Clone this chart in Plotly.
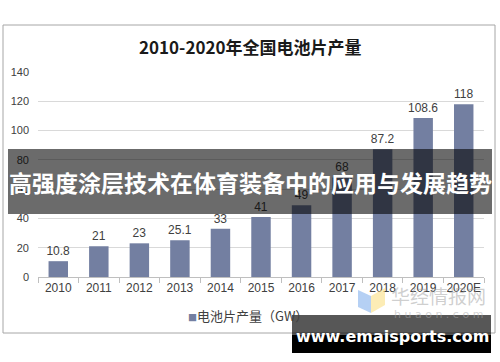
import plotly.graph_objects as go

categories = ["2010", "2011", "2012", "2013", "2014", "2015", "2016", "2017", "2018", "2019", "2020E"]
values = [10.8, 21, 23, 25.1, 33, 41, 49, 68, 87.2, 108.6, 118]
value_labels = ["10.8", "21", "23", "25.1", "33", "41", "49", "68", "87.2", "108.6", "118"]
y_ticks = [0, 20, 40, 60, 80, 100, 120, 140]

title_text = "2010-2020年全国电池片产量"
legend_text = "电池片产量（GW）"
banner_text = "高强度涂层技术在体育装备中的应用与发展趋势"
site_text = "www.emaisports.com"

W, H = 500, 362
L, R, T, B = 38, 16, 72, 85
PW, PH = W - L - R, H - T - B

def px(x):
    return (x - L) / PW

def py(y):
    return (H - B - y) / PH

bar_color = "#737fa1"

fig = go.Figure()
fig.add_trace(go.Bar(
    x=categories, y=values, text=value_labels, textposition="outside",
    constraintext="none",
    textfont=dict(family="Liberation Sans, Arial", size=12, color="#404040"),
    marker=dict(color=bar_color, line=dict(width=0)),
    cliponaxis=False, showlegend=False, hoverinfo="skip",
))

shapes = [
    # chart frame
    dict(type="rect", xref="paper", yref="paper", x0=px(3), x1=px(495), y0=py(333), y1=py(25),
         line=dict(color="#a6a6a6", width=1), fillcolor="rgba(0,0,0,0)", layer="below"),
    # logo watermark
    dict(type="path", xref="paper", yref="paper",
         path=f"M {px(358)},{py(290)} L {px(371)},{py(296)} L {px(371)},{py(313)} L {px(358)},{py(307)} Z",
         fillcolor="rgba(120,170,235,0.55)", line=dict(width=0), layer="above"),
    dict(type="path", xref="paper", yref="paper",
         path=f"M {px(371)},{py(296)} L {px(385)},{py(288)} L {px(385)},{py(305)} L {px(371)},{py(313)} Z",
         fillcolor="rgba(250,220,120,0.55)", line=dict(width=0), layer="above"),
    # banner overlay
    dict(type="rect", xref="paper", yref="paper", x0=px(8), x1=px(492), y0=py(214), y1=py(149),
         fillcolor="rgba(0,0,0,0.58)", line=dict(width=0), layer="above"),
    # site watermark box
    dict(type="rect", xref="paper", yref="paper", x0=px(292), x1=px(491), y0=py(335), y1=py(315),
         fillcolor="rgba(0,0,0,0.66)", line=dict(width=0), layer="above"),
    dict(type="rect", xref="paper", yref="paper", x0=px(292), x1=px(491), y0=py(353), y1=py(335),
         fillcolor="#000000", line=dict(width=0), layer="above"),
]

annotations = [
    dict(text=f"<b>{title_text}</b>", xref="paper", yref="paper", x=px(250), y=py(47),
         xanchor="center", yanchor="middle", showarrow=False,
         font=dict(family="Noto Sans CJK SC", size=17, color="#1a1a1a")),
    dict(text=f"<span style='color:{bar_color};font-size:9px'>■</span>{legend_text}", xref="paper", yref="paper",
         x=px(248), y=py(315), xanchor="center", yanchor="middle", showarrow=False,
         font=dict(family="Noto Sans CJK SC", size=13, color="#404040")),
    dict(text="华经情报网", xref="paper", yref="paper", x=px(438), y=py(295),
         xanchor="center", yanchor="middle", showarrow=False,
         font=dict(family="Noto Sans CJK SC", size=19, color="rgba(160,160,160,0.5)")),
    dict(text="h u a o n . c o m", xref="paper", yref="paper", x=px(438), y=py(314),
         xanchor="center", yanchor="middle", showarrow=False,
         font=dict(family="DejaVu Sans", size=11, color="rgba(170,170,170,0.5)")),
    dict(text=f"<b>{banner_text}</b>", xref="paper", yref="paper", x=px(250), y=py(182),
         xanchor="center", yanchor="middle", showarrow=False,
         font=dict(family="Noto Sans CJK SC", size=23, color="#ffffff")),
    dict(text=f"<b>{site_text}</b>", xref="paper", yref="paper", x=px(392), y=py(336),
         xanchor="center", yanchor="middle", showarrow=False,
         font=dict(family="DejaVu Sans", size=16, color="#ffffff")),
]

fig.update_layout(
    template="none",
    width=W, height=H,
    margin=dict(l=L, r=R, t=T, b=B, pad=0, autoexpand=False),
    paper_bgcolor="#ffffff", plot_bgcolor="#ffffff",
    bargap=0.52, showlegend=False,
    shapes=shapes, annotations=annotations,
    xaxis=dict(type="category", showgrid=False, showline=True, linecolor="#bfbfbf", linewidth=1,
               ticks="outside", tickson="boundaries", ticklen=5, tickcolor="#bfbfbf",
               tickangle=0, automargin=False,
               tickfont=dict(family="Liberation Sans, Arial", size=12, color="#404040"),
               fixedrange=True),
    yaxis=dict(range=[0, 140], tickvals=y_ticks, showgrid=True, gridcolor="#d9d9d9", gridwidth=1,
               zeroline=False, showline=False, ticks="", ticklabelstandoff=8, automargin=False,
               tickfont=dict(family="Liberation Sans, Arial", size=11, color="#404040"),
               fixedrange=True),
)

fig.write_html("out.html", config={"displayModeBar": False},
               post_script="document.body.style.margin='0';document.body.style.overflow='hidden';")
